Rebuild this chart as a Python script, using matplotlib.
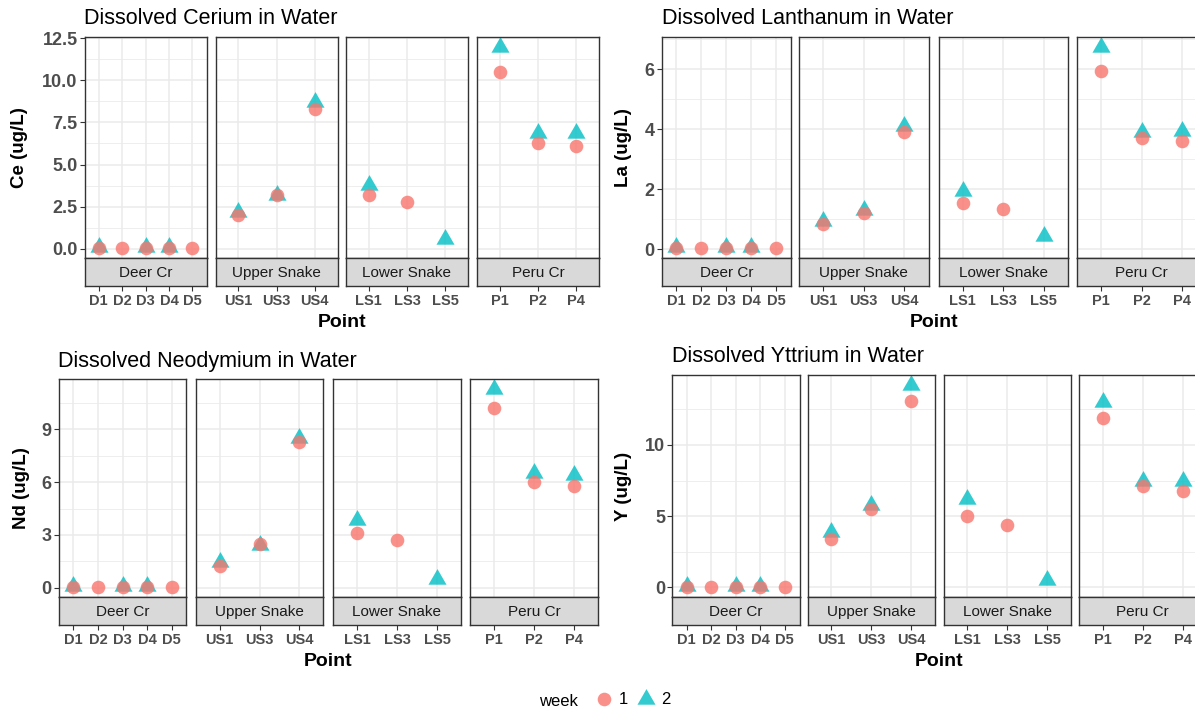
import numpy as np
import matplotlib.pyplot as plt
from matplotlib.lines import Line2D

plt.rcParams['font.family'] = ['Liberation Sans', 'DejaVu Sans']

nan = np.nan
sites = ['Deer Cr', 'Upper Snake', 'Lower Snake', 'Peru Cr']
points = [['D1', 'D2', 'D3', 'D4', 'D5'],
          ['US1', 'US3', 'US4'],
          ['LS1', 'LS3', 'LS5'],
          ['P1', 'P2', 'P4']]

# week 1 / week 2 values per site (nan = not sampled)
ce_wk1 = [[0.04, 0.04, 0.04, 0.04, 0.04], [2.0, 3.2, 8.3], [3.2, 2.75, nan], [10.5, 6.3, 6.1]]
ce_wk2 = [[0.08, nan, 0.08, 0.08, nan], [2.2, 3.2, 8.7], [3.8, nan, 0.6], [12.0, 6.9, 6.9]]

la_wk1 = [[0.04, 0.04, 0.04, 0.04, 0.04], [0.85, 1.2, 3.9], [1.55, 1.35, nan], [5.95, 3.7, 3.6]]
la_wk2 = [[0.08, nan, 0.08, 0.08, nan], [0.95, 1.3, 4.1], [1.95, nan, 0.45], [6.75, 3.9, 3.95]]

nd_wk1 = [[0.04, 0.04, 0.04, 0.04, 0.04], [1.25, 2.5, 8.3], [3.1, 2.7, nan], [10.2, 6.0, 5.8]]
nd_wk2 = [[0.08, nan, 0.08, 0.08, nan], [1.45, 2.45, 8.5], [3.85, nan, 0.5], [11.3, 6.5, 6.4]]

y_wk1 = [[0.04, 0.04, 0.04, 0.04, 0.04], [3.4, 5.5, 13.1], [5.0, 4.35, nan], [11.9, 7.1, 6.8]]
y_wk2 = [[0.08, nan, 0.08, 0.08, nan], [3.9, 5.8, 14.2], [6.2, nan, 0.5], [13.0, 7.5, 7.5]]

W, H = 1195, 711
C1 = '#F8766D'
C2 = '#00BFC4'
GRID = '#EBEBEB'
DARK = '#333333'
TICKC = '#4D4D4D'
# triangle centred on its centroid, like R's pch 17
TRI = [(0, 1), (-0.866, -0.5), (0.866, -0.5)]
TRI_MS = 15
CIR_MS = 9.8

fig = plt.figure(figsize=(W / 100, H / 100), dpi=100)


def px(x, y, w, h):
    return [x / W, 1 - (y + h) / H, w / W, h / H]


def draw_chart(title, ylabel, wk1, wk2, major, minor, fmt, lefts, pw, top, s_top, s_bot, ylab_x):
    allv = np.array([v for s in wk1 + wk2 for v in s], dtype=float)
    lo, hi = np.nanmin(allv), np.nanmax(allv)
    pad = (hi - lo) * 0.05
    ylim = (lo - pad, hi + pad)
    for i, site in enumerate(sites):
        n = len(points[i])
        xs = np.arange(1, n + 1)
        ax = fig.add_axes(px(lefts[i], top, pw, s_top - top))
        ax.set_xlim(0.4, n + 0.6)
        ax.set_ylim(*ylim)
        ax.set_axisbelow(True)
        ax.set_xticks(xs)
        ax.set_yticks(major)
        ax.set_yticks(minor, minor=True)
        ax.grid(True, which='major', color=GRID, lw=1.1)
        ax.grid(True, which='minor', axis='y', color=GRID, lw=0.6)
        ax.tick_params(axis='x', bottom=False, labelbottom=False)
        ax.tick_params(axis='y', which='minor', left=False)
        if i == 0:
            ax.tick_params(axis='y', which='major', length=3.5, width=0.8, color=DARK,
                           pad=1.5, labelsize=13, labelcolor=TICKC)
            ax.set_yticklabels([fmt.format(t) for t in major], fontweight='bold')
        else:
            ax.tick_params(axis='y', left=False, labelleft=False)
        for sp in ax.spines.values():
            sp.set_color(DARK)
            sp.set_linewidth(1.0)
        ax.plot(xs, wk2[i], ls='none', marker=TRI, ms=TRI_MS, color=C2, alpha=0.8, mec='none')
        ax.plot(xs, wk1[i], ls='none', marker='o', ms=CIR_MS, color=C1, alpha=0.8, mec='none')

        st = fig.add_axes(px(lefts[i], s_top, pw, s_bot - s_top))
        st.set_facecolor('#D9D9D9')
        st.set_xlim(0.4, n + 0.6)
        st.set_ylim(0, 1)
        st.set_yticks([])
        st.set_xticks(xs)
        st.set_xticklabels(points[i], fontweight='bold')
        st.tick_params(axis='x', length=3.5, width=0.8, color=DARK, pad=2,
                       labelsize=10.5, labelcolor=TICKC)
        for sp in st.spines.values():
            sp.set_color(DARK)
            sp.set_linewidth(1.0)
        st.text(0.5, 0.45, site, transform=st.transAxes, ha='center', va='center',
                fontsize=11, color='#1A1A1A')

    fig.text(lefts[0] / W, 1 - (top - 18) / H, title, ha='left', va='center', fontsize=15.5)
    mid = (lefts[0] + lefts[-1] + pw) / 2
    fig.text(mid / W, 1 - (s_bot + 37) / H, 'Point', ha='center', va='center',
             fontsize=14, fontweight='bold')
    fig.text(ylab_x / W, 1 - ((top + s_top) / 2) / H, ylabel, ha='center', va='center',
             rotation=90, fontsize=13.5, fontweight='bold')


draw_chart('Dissolved Cerium in Water', 'Ce (ug/L)', ce_wk1, ce_wk2,
           [0, 2.5, 5, 7.5, 10, 12.5], [1.25, 3.75, 6.25, 8.75, 11.25], '{:.1f}',
           [84.5, 215.5, 346, 477], 122, 36.7, 258, 286, 20)
draw_chart('Dissolved Lanthanum in Water', 'La (ug/L)', la_wk1, la_wk2,
           [0, 2, 4, 6], [1, 3, 5, 7], '{:.0f}',
           [661.5, 799, 938.5, 1077], 129.5, 36.7, 258, 286, 624)
draw_chart('Dissolved Neodymium in Water', 'Nd (ug/L)', nd_wk1, nd_wk2,
           [0, 3, 6, 9], [1.5, 4.5, 7.5, 10.5], '{:.0f}',
           [58.5, 195.5, 333, 470], 128, 379, 597, 625, 22)
draw_chart('Dissolved Yttrium in Water', 'Y (ug/L)', y_wk1, y_wk2,
           [0, 5, 10], [2.5, 7.5, 12.5], '{:.0f}',
           [672, 807.5, 943.5, 1079], 127.5, 375, 597, 625, 624)

# legend
fig.text(558 / W, 1 - 701 / H, 'week', ha='center', va='center', fontsize=12)
handles = [Line2D([], [], ls='none', marker='o', ms=CIR_MS, color=C1, alpha=0.8, mec='none'),
           Line2D([], [], ls='none', marker=TRI, ms=TRI_MS, color=C2, alpha=0.8, mec='none')]
fig.legend(handles, ['1', '2'], loc='center', bbox_to_anchor=(633 / W, 1 - 700 / H),
           ncol=2, frameon=False, fontsize=12, handlelength=1.0, handletextpad=0.4,
           columnspacing=0.6, borderpad=0)

fig.savefig('out.png', dpi=100)
